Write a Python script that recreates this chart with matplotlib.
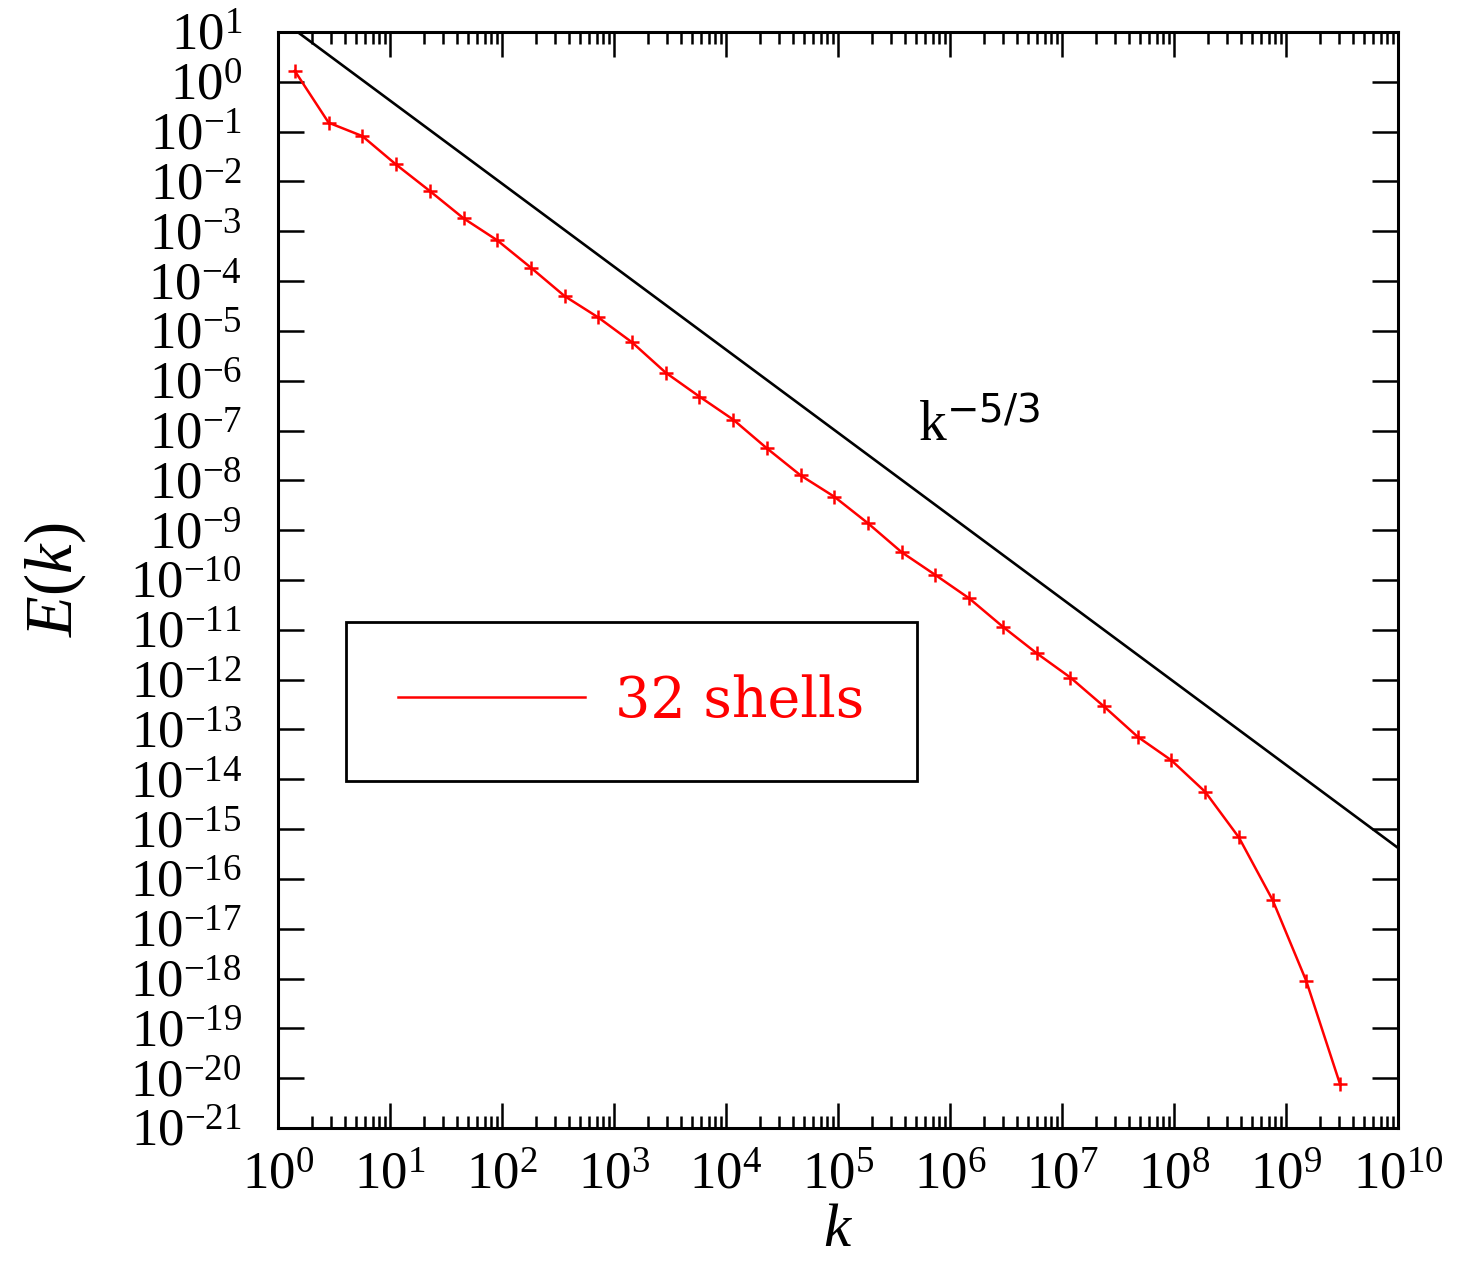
import math
import matplotlib
matplotlib.use('Agg')
import matplotlib.pyplot as plt
import matplotlib.ticker as mticker

plt.rcParams['font.family'] = ['Liberation Serif', 'DejaVu Serif']
plt.rcParams['mathtext.fontset'] = 'custom'
plt.rcParams['mathtext.rm'] = 'Liberation Serif'
plt.rcParams['mathtext.it'] = 'Liberation Serif:italic'
plt.rcParams['mathtext.sf'] = 'DejaVu Sans'
plt.rcParams['mathtext.default'] = 'regular'

# Shell wavenumbers and energy spectrum
k_shell = [1.41, 2.83, 5.66, 11.3, 22.6, 45.3, 90.5, 181, 362, 724,
           1448, 2896, 5793, 11585, 23170, 46341, 92682, 1.85e5, 3.71e5, 7.41e5,
           1.48e6, 2.97e6, 5.93e6, 1.19e7, 2.37e7, 4.75e7, 9.49e7, 1.90e8, 3.80e8, 7.59e8,
           1.52e9, 3.04e9]
E_shell = [1.66, 0.151, 0.0813, 0.0219, 6.46e-3, 1.82e-3, 6.6e-4, 1.86e-4, 5.0e-5, 1.86e-5,
           5.9e-6, 1.45e-6, 4.8e-7, 1.66e-7, 4.4e-8, 1.26e-8, 4.7e-9, 1.38e-9, 3.6e-10, 1.26e-10,
           4.3e-11, 1.15e-11, 3.4e-12, 1.1e-12, 2.9e-13, 7.1e-14, 2.4e-14, 5.6e-15, 6.8e-16, 3.8e-17,
           8.9e-19, 7.6e-21]

# Kolmogorov reference line end points
k_ref = [1.0, 1e10]
E_ref = [19.5, 4.2e-16]

fig = plt.figure(figsize=(14.58, 12.64), dpi=100)
ax = fig.add_axes([0.1907, 0.1076, 0.7681, 0.8671])

ax.plot(k_ref, E_ref, color='black', lw=1.9)
ax.plot(k_shell, E_shell, color='red', lw=1.8, label='32 shells')
ax.plot(k_shell, E_shell, color='red', ls='none', marker='+', ms=10, mew=1.8)

ax.set_xscale('log')
ax.set_yscale('log')
ax.set_xlim(1, 1e10)
ax.set_ylim(1e-21, 1e1)

ax.xaxis.set_major_locator(mticker.LogLocator(base=10, numticks=20))
ax.xaxis.set_minor_locator(mticker.LogLocator(base=10, subs=range(2, 10), numticks=20))
ax.yaxis.set_major_locator(mticker.LogLocator(base=10, numticks=40))
ax.yaxis.set_minor_locator(mticker.NullLocator())
fmt = mticker.FuncFormatter(lambda v, p: r'$10^{%d}$' % round(math.log10(v)))
ax.xaxis.set_major_formatter(fmt)
ax.yaxis.set_major_formatter(fmt)

ax.tick_params(which='both', direction='in', top=True, right=True, width=1.8, labelsize=38)
ax.tick_params(axis='x', which='major', length=18, pad=17)
ax.tick_params(axis='x', which='minor', length=8.5)
ax.tick_params(axis='y', which='major', length=19, pad=26)
for s in ax.spines.values():
    s.set_linewidth(2.2)

ax.set_xlabel(r'$\mathit{k}$', fontsize=44, labelpad=3)
ax.set_ylabel(r'$\mathit{E(k)}$', fontsize=48, labelpad=30)

ax.text(5.2e5, 6e-8, r'k$^{\mathsf{-5/3}}$', fontsize=40, ha='left', va='baseline')

leg = ax.legend(loc='upper left', bbox_to_anchor=(0.0607, 0.4617), borderaxespad=0,
                prop={'family': 'DejaVu Serif', 'size': 40}, handlelength=3.37,
                handletextpad=0.54, borderpad=0.94,
                fancybox=False, framealpha=1, edgecolor='black', labelcolor='red')
leg.get_frame().set_linewidth(2.0)

fig.savefig('out.png', dpi=100)
